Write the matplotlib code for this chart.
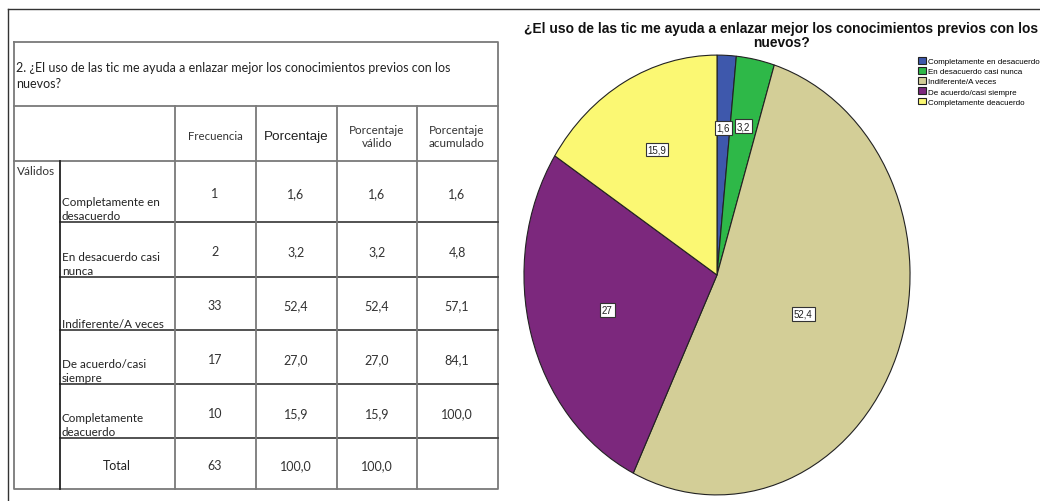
import matplotlib.pyplot as plt
import numpy as np

# datos de la tabla de frecuencias
categorias = ["Completamente en desacuerdo", "En desacuerdo casi nunca",
              "Indiferente/A veces", "De acuerdo/casi siempre",
              "Completamente deacuerdo"]
filas_tabla = ["Completamente en\ndesacuerdo", "En desacuerdo casi\nnunca",
               "Indiferente/A veces", "De acuerdo/casi\nsiempre",
               "Completamente\ndeacuerdo"]
frecuencia = [1, 2, 33, 17, 10]
porcentaje = [1.6, 3.2, 52.4, 27.0, 15.9]
porc_valido = [1.6, 3.2, 52.4, 27.0, 15.9]
porc_acumulado = [1.6, 4.8, 57.1, 84.1, 100.0]
total_frec = 63
total_porc = 100.0
etiquetas_pie = ["1,6", "3,2", "52,4", "27", "15,9"]
colores = ["#3E58AC", "#2EB848", "#D3CE97", "#7C287D", "#FBF873"]

pregunta = "¿El uso de las tic me ayuda a enlazar mejor los conocimientos previos con los"


def coma(v):
    return f"{v:.1f}".replace(".", ",")


W, H = 1040, 502
fig = plt.figure(figsize=(W / 100, H / 100), dpi=100)
fig.patch.set_facecolor("white")

# eje de fondo en pixeles para la tabla, marco y titulo
ax = fig.add_axes([0, 0, 1, 1])
ax.set_xlim(0, W)
ax.set_ylim(H, 0)
ax.axis("off")

# marco exterior
ax.plot([8, W], [10, 10], color="#333333", lw=1)
ax.plot([8, 8], [10, H], color="#333333", lw=1)

# ---- tabla ----
gris = "#7a7a7a"
x_left, x_right = 14, 498
y_top, y_bot = 43, 490
col_x = [175, 256, 337, 417]
col_c = [215, 296, 377, 457]
filas_y = [162, 223, 278, 331, 385, 439, 490]

ax.plot([x_left, x_right, x_right, x_left, x_left],
        [y_top, y_top, y_bot, y_bot, y_top], color=gris, lw=1.3)
ax.plot([x_left, x_right], [107, 107], color=gris, lw=1.3)
ax.plot([x_left, x_right], [162, 162], color=gris, lw=1.3)
for y in filas_y[1:-1]:
    ax.plot([60, x_right], [y, y], color="#444444", lw=1.3)
for x in col_x:
    ax.plot([x, x], [107, y_bot], color=gris, lw=1.3)
ax.plot([60, 60], [162, y_bot], color="#222222", lw=1.3)

fuente_t = "Lato"
ax.text(16, 76, "2. " + pregunta + "\nnuevos?", ha="left", va="center",
        fontsize=9, family=fuente_t, color="#222222", linespacing=1.45)

ax.text(col_c[0], 137, "Frecuencia", ha="center", va="center",
        fontsize=8.2, family=fuente_t, color="#333333")
ax.text(col_c[1], 137, "Porcentaje", ha="center", va="center",
        fontsize=9.7, family="Liberation Sans", color="#222222")
ax.text(col_c[2], 137, "Porcentaje\nválido", ha="center", va="center",
        fontsize=8.4, family=fuente_t, color="#333333", linespacing=1.25)
ax.text(col_c[3], 137, "Porcentaje\nacumulado", ha="center", va="center",
        fontsize=8.4, family=fuente_t, color="#333333", linespacing=1.25)
ax.text(17, 172, "Válidos", ha="left", va="center",
        fontsize=8.5, family=fuente_t, color="#333333")

for i in range(len(categorias)):
    top, bot = filas_y[i], filas_y[i + 1]
    ym = (top + bot) / 2 + 2
    ax.text(62, bot - 1, filas_tabla[i], ha="left", va="bottom",
            fontsize=8.4, family=fuente_t, color="#222222", linespacing=1.3)
    vals = [str(frecuencia[i]), coma(porcentaje[i]), coma(porc_valido[i]),
            coma(porc_acumulado[i])]
    for xc, v in zip(col_c, vals):
        ax.text(xc, ym, v, ha="center", va="center",
                fontsize=9, family=fuente_t, color="#333333")

ym = (filas_y[-2] + filas_y[-1]) / 2 + 2
ax.text(117, ym, "Total", ha="center", va="center",
        fontsize=9, family=fuente_t, color="#222222")
for xc, v in zip(col_c[:3], [str(total_frec), coma(total_porc), coma(total_porc)]):
    ax.text(xc, ym, v, ha="center", va="center",
            fontsize=9, family=fuente_t, color="#333333")

# ---- titulo del grafico ----
ax.text(781, 36, pregunta + "\nnuevos?", ha="center", va="center",
        fontsize=9.9, weight="bold", family="Liberation Sans",
        color="#111111", linespacing=1.0)

# ---- grafico de sectores (eliptico como en SPSS) ----
cx, cy, rx, ry = 717, 276, 194, 221
axp = fig.add_axes([(cx - rx) / W, (H - cy - ry) / H, 2 * rx / W, 2 * ry / H])
wedges, _ = axp.pie(porcentaje, colors=colores, startangle=90,
                    counterclock=False, radius=1,
                    wedgeprops=dict(edgecolor="#222222", linewidth=0.8))
axp.set_xlim(-1.005, 1.005)
axp.set_ylim(-1.005, 1.005)
axp.set_aspect("auto")

label_r = [0.67, 0.69, 0.48, 0.59, 0.65]
for w, txt, r in zip(wedges, etiquetas_pie, label_r):
    ang = np.deg2rad((w.theta1 + w.theta2) / 2)
    axp.text(r * np.cos(ang), r * np.sin(ang), txt, ha="center", va="center",
             fontsize=7, family="Liberation Sans", color="#222222",
             bbox=dict(boxstyle="square,pad=0.2", fc="white",
                       ec="#333333", lw=0.8))

ax.legend(wedges, categorias, loc="upper left", bbox_to_anchor=(918, 58),
          bbox_transform=ax.transData, frameon=False,
          prop=dict(family="Liberation Sans", size=5.8),
          handlelength=1.0, handleheight=0.9, handletextpad=0.3,
          labelspacing=0.25, borderpad=0, borderaxespad=0)

fig.savefig("out.png", dpi=100, facecolor="white")
